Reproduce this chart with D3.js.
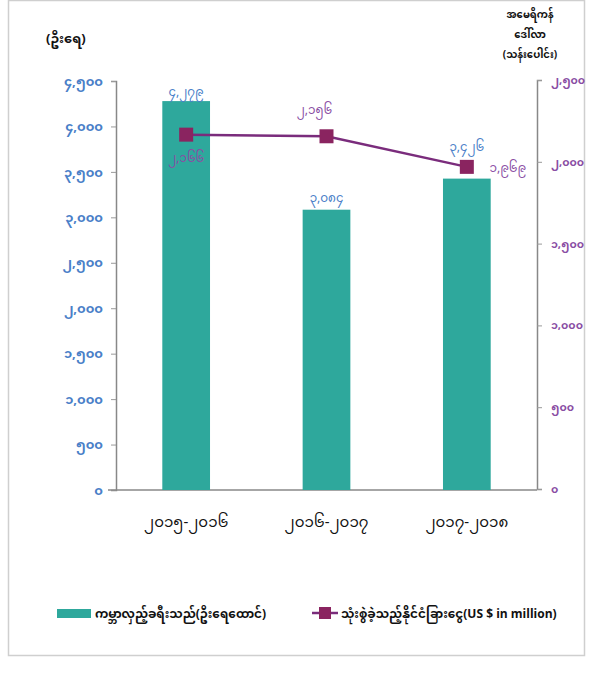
<!DOCTYPE html>
<html><head><meta charset="utf-8">
<script src="https://cdn.jsdelivr.net/npm/d3@7"></script>
<style>body{margin:0;background:#fff;} svg{display:block;}</style>
</head><body>
<svg id="chart" width="591" height="674"></svg>
<script>
const categories = ["၂၀၁၅-၂၀၁၆", "၂၀၁၆-၂၀၁၇", "၂၀၁၇-၂၀၁၈"];
const visitors = [4279, 3084, 3426];
const visitorLabels = ["၄,၂၇၉", "၃,၀၈၄", "၃,၄၂၆"];
const spending = [2166, 2156, 1969];
const spendingLabels = ["၂,၁၆၆", "၂,၁၅၆", "၁,၉၆၉"];
const leftTicks = [0, 500, 1000, 1500, 2000, 2500, 3000, 3500, 4000, 4500];
const leftTickLabels = ["၀", "၅၀၀", "၁,၀၀၀", "၁,၅၀၀", "၂,၀၀၀", "၂,၅၀၀", "၃,၀၀၀", "၃,၅၀၀", "၄,၀၀၀", "၄,၅၀၀"];
const rightTicks = [0, 500, 1000, 1500, 2000, 2500];
const rightTickLabels = ["၀", "၅၀၀", "၁,၀၀၀", "၁,၅၀၀", "၂,၀၀၀", "၂,၅၀၀"];
const legendLabels = ["ကမ္ဘာလှည့်ခရီးသည်(ဦးရေထောင်)", "သုံးစွဲခဲ့သည့်နိုင်ငံခြားငွေ(US $ in million)"];

const svg = d3.select("#chart");
const font = "'Noto Sans Myanmar','Padauk','Myanmar Text','Noto Sans','DejaVu Sans',sans-serif";
const teal = "#2ea89c", purple = "#7a2c7c", marker = "#8a2460";
const blue = "#4a80c8", pLabel = "#8a4ea4";

// frame
svg.append("rect").attr("x", 8.5).attr("y", 0.5).attr("width", 576).attr("height", 655)
  .attr("fill", "none").attr("stroke", "#cfcfcf").attr("stroke-width", 1.5);

const x = d3.scaleBand().domain(categories).range([116, 537]).paddingInner(0.66).paddingOuter(0.33);
const yL = d3.scaleLinear().domain([0, 4500]).range([490, 81]);
const yR = d3.scaleLinear().domain([0, 2500]).range([489, 80]);

// left axis
const gL = svg.append("g").attr("transform", "translate(116,0)")
  .call(d3.axisLeft(yL).tickValues(leftTicks).tickFormat((d, i) => leftTickLabels[i]).tickSize(5).tickPadding(8));
gL.select(".domain").attr("stroke", "#888").attr("stroke-width", 1.5);
gL.selectAll(".tick line").attr("stroke", "#999");
gL.selectAll(".tick text").attr("fill", blue).attr("font-size", 13).attr("font-weight", "bold").attr("font-family", font);

// right axis
const gR = svg.append("g").attr("transform", "translate(537,0)")
  .call(d3.axisRight(yR).tickValues(rightTicks).tickFormat((d, i) => rightTickLabels[i]).tickSize(5).tickPadding(9));
gR.select(".domain").attr("stroke", "#888").attr("stroke-width", 1.5);
gR.selectAll(".tick line").attr("stroke", "#999");
gR.selectAll(".tick text").attr("fill", pLabel).attr("font-size", 11).attr("font-weight", "bold").attr("font-family", font);

// bottom axis
const gB = svg.append("g").attr("transform", "translate(0,490)")
  .call(d3.axisBottom(x).tickSize(0).tickPadding(26));
gB.select(".domain").attr("stroke", "#888").attr("stroke-width", 1.5).attr("d", "M108,0H537");
gB.selectAll(".tick text").attr("fill", "#111").attr("font-size", 15).attr("font-family", font);

// bars
svg.selectAll(".bar").data(visitors).enter().append("rect")
  .attr("x", (d, i) => x(categories[i])).attr("width", x.bandwidth())
  .attr("y", d => yL(d)).attr("height", d => yL(0) - yL(d)).attr("fill", teal);
const barOff = [-5, -8, -28];
svg.selectAll(".blab").data(visitors).enter().append("text")
  .attr("x", (d, i) => x(categories[i]) + x.bandwidth() / 2).attr("y", (d, i) => yL(d) + barOff[i])
  .attr("text-anchor", "middle").attr("fill", blue).attr("font-size", 12).attr("font-family", font)
  .text((d, i) => visitorLabels[i]);

// line
const cx = (i) => x(categories[i]) + x.bandwidth() / 2;
svg.append("path").datum(spending)
  .attr("d", d3.line().x((d, i) => cx(i)).y(d => yR(d)))
  .attr("fill", "none").attr("stroke", purple).attr("stroke-width", 2.5);
svg.selectAll(".mk").data(spending).enter().append("rect")
  .attr("x", (d, i) => cx(i) - 7).attr("y", d => yR(d) - 7).attr("width", 14).attr("height", 14)
  .attr("fill", marker);
const lblOff = [[0, 27], [-12, -22], [41, 5]];
svg.selectAll(".llab").data(spending).enter().append("text")
  .attr("x", (d, i) => cx(i) + lblOff[i][0]).attr("y", (d, i) => yR(d) + lblOff[i][1])
  .attr("text-anchor", "middle").attr("fill", pLabel).attr("font-size", 12).attr("font-family", font)
  .text((d, i) => spendingLabels[i]);

// axis titles
svg.append("text").attr("x", 46).attr("y", 43).attr("font-size", 13).attr("font-weight", "bold")
  .attr("font-family", font).attr("fill", "#111").text("(ဦးရေ)");
const rt = ["အမေရိကန်", "ဒေါ်လာ", "(သန်းပေါင်း)"];
svg.selectAll(".rt").data(rt).enter().append("text")
  .attr("x", 530).attr("y", (d, i) => 18 + i * 20).attr("text-anchor", "middle")
  .attr("font-size", 10).attr("font-weight", "bold").attr("font-family", font).attr("fill", "#111").text(d => d);

// legend
svg.append("rect").attr("x", 57).attr("y", 609).attr("width", 34).attr("height", 9).attr("fill", teal);
svg.append("text").attr("x", 95).attr("y", 618).attr("font-size", 12).attr("font-weight", "bold")
  .attr("font-family", font).attr("fill", "#111").text(legendLabels[0]);
svg.append("line").attr("x1", 312).attr("x2", 338).attr("y1", 613).attr("y2", 613)
  .attr("stroke", purple).attr("stroke-width", 2.5);
svg.append("rect").attr("x", 319).attr("y", 607).attr("width", 12).attr("height", 12).attr("fill", marker);
svg.append("text").attr("x", 341).attr("y", 618).attr("font-size", 12).attr("font-weight", "bold")
  .attr("font-family", font).attr("fill", "#111").text(legendLabels[1]);
</script>
</body></html>
